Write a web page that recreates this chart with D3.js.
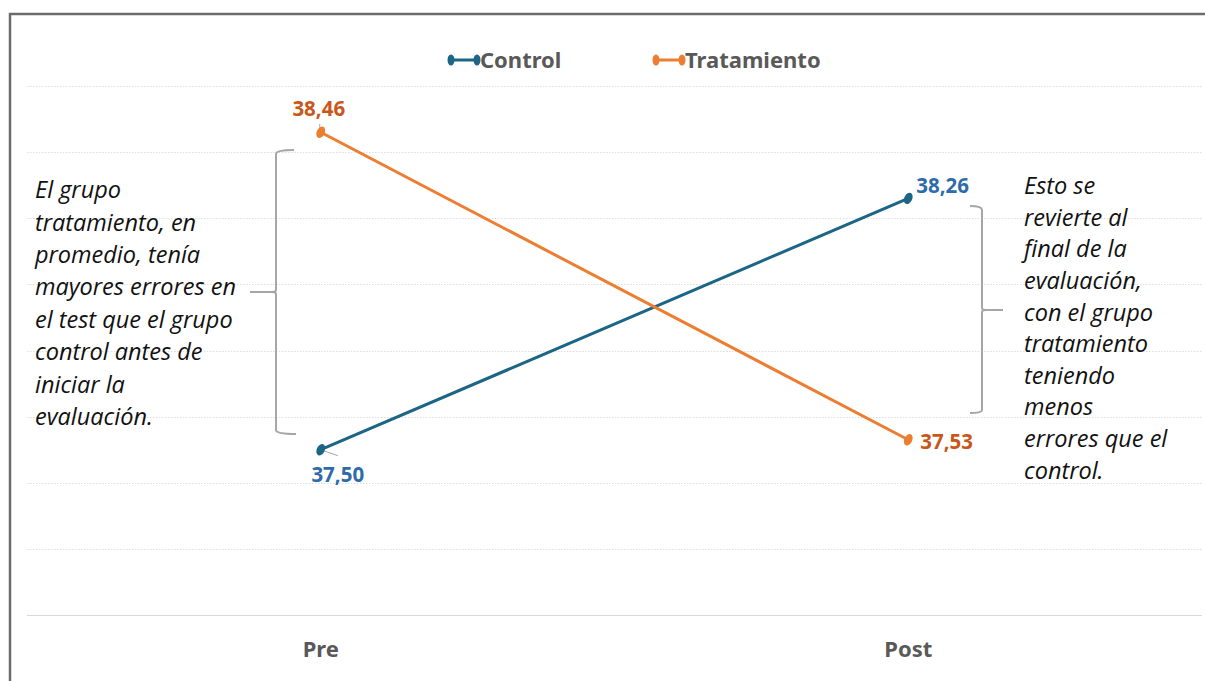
<!DOCTYPE html>
<html>
<head>
<meta charset="utf-8">
<script src="https://cdn.jsdelivr.net/npm/d3@7"></script>
<style>
  html, body { margin: 0; padding: 0; background: #fff; }
  svg { display: block; }
</style>
</head>
<body>
<svg id="chart" width="1205" height="681"></svg>
<script>
// Pre/post test error means by group
const categories = ["Pre", "Post"];
const controlValues = [37.50, 38.26];
const tratamientoValues = [38.46, 37.53];
const seriesNames = ["Control", "Tratamiento"];
const gridTicks = [37.0, 37.2, 37.4, 37.6, 37.8, 38.0, 38.2, 38.4, 38.6];

const leftNote = ["El grupo", "tratamiento, en", "promedio, tenía", "mayores errores en",
  "el test que el grupo", "control antes de", "iniciar la", "evaluación."];
const rightNote = ["Esto se", "revierte al", "final de la", "evaluación,", "con el grupo",
  "tratamiento", "teniendo", "menos", "errores que el", "control."];

const colors = { Control: "#1d6585", Tratamiento: "#ed7d31" };
const labelColors = { Control: "#2e6ba8", Tratamiento: "#c9571a" };

const svg = d3.select("#chart");
const fmt = v => d3.format(".2f")(v).replace(".", ",");

const x = d3.scaleBand().domain(categories).range([27, 1202]);
const y = d3.scaleLinear().domain([37.0, 38.6]).range([615, 86]);

// outer frame
svg.append("path")
  .attr("d", "M10,681 V14 H1205")
  .attr("fill", "none").attr("stroke", "#6b6b6b").attr("stroke-width", 2.5);

// horizontal gridlines
svg.append("g").selectAll("line").data(gridTicks).join("line")
  .attr("x1", 27).attr("x2", 1202)
  .attr("y1", d => Math.round(y(d)) + 0.5).attr("y2", d => Math.round(y(d)) + 0.5)
  .attr("stroke", d => d === 37.0 ? "#d9d9d9" : "#dedede")
  .attr("stroke-width", 1)
  .attr("stroke-dasharray", d => d === 37.0 ? null : "1.5,1.5");

// category axis labels
const xAxis = d3.axisBottom(x).tickSize(0).tickPadding(0);
const gx = svg.append("g").attr("transform", "translate(0,640)").call(xAxis);
gx.select(".domain").remove();
gx.selectAll("text")
  .attr("font-family", "'Noto Sans', sans-serif")
  .attr("font-size", 22).attr("font-weight", "bold").attr("fill", "#595959")
  .attr("dy", "0.35em").attr("y", 9);

const series = [
  { name: "Control", values: controlValues },
  { name: "Tratamiento", values: tratamientoValues }
];
const cx = c => x(c) + x.bandwidth() / 2;

const line = d3.line().x((d, i) => cx(categories[i])).y(d => y(d));

// leader lines from labels
svg.append("line").attr("x1", cx("Pre") - 1).attr("y1", 124).attr("x2", cx("Pre") - 1).attr("y2", y(38.46) - 3)
  .attr("stroke", "#a6a6a6").attr("stroke-width", 1);
svg.append("line").attr("x1", cx("Pre")).attr("y1", y(37.50)).attr("x2", cx("Pre") + 17).attr("y2", y(37.50) + 6)
  .attr("stroke", "#a6a6a6").attr("stroke-width", 1);

series.forEach(s => {
  svg.append("path").datum(s.values)
    .attr("d", line).attr("fill", "none")
    .attr("stroke", colors[s.name]).attr("stroke-width", 3);
  svg.append("g").selectAll("ellipse").data(s.values).join("ellipse")
    .attr("cx", (d, i) => cx(categories[i]))
    .attr("cy", d => y(d))
    .attr("rx", 4).attr("ry", 6)
    .attr("transform", (d, i) => `rotate(25 ${cx(categories[i])} ${y(d)})`)
    .attr("fill", colors[s.name]);
});

// data labels
const labelPos = [
  { name: "Tratamiento", i: 0, dx: -2, dy: -23, anchor: "middle" },
  { name: "Control", i: 0, dx: 17, dy: 25, anchor: "middle" },
  { name: "Control", i: 1, dx: 8, dy: -13, anchor: "start" },
  { name: "Tratamiento", i: 1, dx: 12, dy: 2, anchor: "start" }
];
labelPos.forEach(p => {
  const v = series.find(s => s.name === p.name).values[p.i];
  svg.append("text")
    .attr("x", cx(categories[p.i]) + p.dx)
    .attr("y", y(v) + p.dy)
    .attr("dy", "0.35em")
    .attr("text-anchor", p.anchor)
    .attr("font-family", "'Noto Sans', sans-serif")
    .attr("font-size", 20.5).attr("font-weight", "bold")
    .attr("fill", labelColors[p.name])
    .text(fmt(v));
});

// legend
const legendX = [447, 652];
seriesNames.forEach((n, i) => {
  const g = svg.append("g").attr("transform", `translate(${legendX[i]},60)`);
  g.append("line").attr("x1", 3).attr("x2", 30).attr("y1", 0).attr("y2", 0)
    .attr("stroke", colors[n]).attr("stroke-width", 3);
  g.append("ellipse").attr("cx", 4).attr("cy", 0).attr("rx", 3.5).attr("ry", 5.5).attr("fill", colors[n]);
  g.append("ellipse").attr("cx", 30).attr("cy", 0).attr("rx", 3.5).attr("ry", 5.5).attr("fill", colors[n]);
  g.append("text").attr("x", 33).attr("y", 0).attr("dy", "0.35em")
    .attr("font-family", "'Noto Sans', sans-serif")
    .attr("font-size", 22).attr("font-weight", "bold").attr("fill", "#595959")
    .text(n);
});

// braces
const brace = "#a6a6a6";
svg.append("path")
  .attr("d", "M294,150 Q276,150 276,154 V290 Q276,292 272,292 H250 M272,292 Q276,292 276,294 V430 Q276,434 296,434")
  .attr("fill", "none").attr("stroke", brace).attr("stroke-width", 2);
svg.append("path")
  .attr("d", "M970,206 Q982,206 982,210 V308 Q982,310 986,310 H1003 M986,310 Q982,310 982,312 V410 Q982,413 970,413")
  .attr("fill", "none").attr("stroke", brace).attr("stroke-width", 2);

// annotation text
function note(lines, x0, y0, lh) {
  const t = svg.append("text")
    .attr("font-family", "'Open Sans', sans-serif")
    .attr("font-size", 23.5).attr("font-style", "italic").attr("fill", "#111");
  lines.forEach((l, i) => {
    t.append("tspan").attr("x", x0).attr("y", y0 + i * lh).attr("dy", "0.35em").text(l);
  });
}
note(leftNote, 35, 190, 32.4);
note(rightNote, 1024, 186, 31.6);
</script>
</body>
</html>
